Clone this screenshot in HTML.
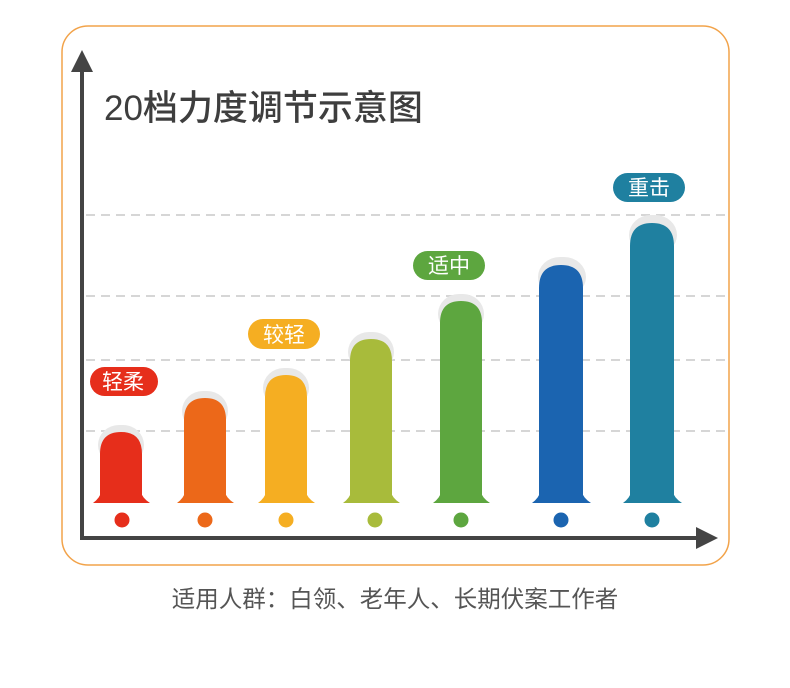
<!DOCTYPE html>
<html><head><meta charset="utf-8"><style>
body{margin:0;background:#fff;}
svg{display:block;font-family:"Liberation Sans","Noto Sans CJK SC",sans-serif;}
</style></head><body>
<svg width="790" height="688" viewBox="0 0 790 688">
<rect x="62" y="26" width="667" height="539" rx="26" fill="none" stroke="#f2a34a" stroke-width="1.5"/>
<g stroke="#d6d6d6" stroke-width="2" stroke-dasharray="9,6">
<line x1="86" y1="215" x2="728" y2="215"/>
<line x1="86" y1="296" x2="728" y2="296"/>
<line x1="86" y1="360" x2="728" y2="360"/>
<line x1="86" y1="431" x2="728" y2="431"/>
</g>
<text x="104" y="120" font-size="35" fill="#3e3e3e" font-weight="500">20档力度调节示意图</text>
<g fill="#e8e8e8">
<rect x="98" y="425" width="46" height="40" rx="21"/>
<rect x="182" y="391" width="46" height="40" rx="21"/>
<rect x="263" y="368" width="46" height="40" rx="21"/>
<rect x="348" y="332" width="46" height="40" rx="21"/>
<rect x="438" y="294" width="46" height="40" rx="21"/>
<rect x="538" y="257" width="48" height="40" rx="22"/>
<rect x="629" y="215" width="48" height="40" rx="22"/>
</g>
<g>
<path d="M100 503 L100 454 Q100 432 121 432 Q142 432 142 454 L142 503 Z M93 503 Q100 498 102 490 L140 490 Q142 498 150 503 Z" fill="#e62e1b"/>
<path d="M184 503 L184 420 Q184 398 205 398 Q226 398 226 420 L226 503 Z M177 503 Q184 498 186 490 L224 490 Q226 498 234 503 Z" fill="#ec6819"/>
<path d="M265 503 L265 397 Q265 375 286 375 Q307 375 307 397 L307 503 Z M258 503 Q265 498 267 490 L305 490 Q307 498 315 503 Z" fill="#f5ae22"/>
<path d="M350 503 L350 361 Q350 339 371 339 Q392 339 392 361 L392 503 Z M343 503 Q350 498 352 490 L390 490 Q392 498 400 503 Z" fill="#a8bb3b"/>
<path d="M440 503 L440 323 Q440 301 461 301 Q482 301 482 323 L482 503 Z M433 503 Q440 498 442 490 L480 490 Q482 498 490 503 Z" fill="#5da63f"/>
<path d="M539 503 L539 288 Q539 265 561 265 Q583 265 583 288 L583 503 Z M532 503 Q539 498 541 490 L581 490 Q583 498 591 503 Z" fill="#1b64b0"/>
<path d="M630 503 L630 246 Q630 223 652 223 Q674 223 674 246 L674 503 Z M623 503 Q630 498 632 490 L672 490 Q674 498 682 503 Z" fill="#1f80a0"/>
</g>
<circle cx="122" cy="520" r="7.5" fill="#e62e1b"/>
<circle cx="205" cy="520" r="7.5" fill="#ec6819"/>
<circle cx="286" cy="520" r="7.5" fill="#f5ae22"/>
<circle cx="375" cy="520" r="7.5" fill="#a8bb3b"/>
<circle cx="461" cy="520" r="7.5" fill="#5da63f"/>
<circle cx="561" cy="520" r="7.5" fill="#1b64b0"/>
<circle cx="652" cy="520" r="7.5" fill="#1f80a0"/>
<g stroke="#444" stroke-width="4" fill="none">
<line x1="82" y1="66" x2="82" y2="538"/>
<line x1="80" y1="538" x2="704" y2="538"/>
</g>
<polygon points="82,50 71,72 93,72" fill="#444"/>
<polygon points="718,538 696,527 696,549" fill="#444"/>
<g font-size="21" fill="#fff" text-anchor="middle">
<rect x="90" y="367" width="68" height="29" rx="14.5" fill="#e62e1b"/><text x="123" y="389">轻柔</text>
<rect x="248" y="319" width="72" height="30" rx="15" fill="#f5ae22"/><text x="284" y="342">较轻</text>
<rect x="413" y="251" width="72" height="29" rx="14.5" fill="#5da63f"/><text x="449" y="273">适中</text>
<rect x="613" y="173" width="72" height="29" rx="14.5" fill="#1f80a0"/><text x="649" y="195">重击</text>
</g>
<text x="395" y="607" font-size="23.5" fill="#555" text-anchor="middle">适用人群：白领、老年人、长期伏案工作者</text>
</svg>
</body></html>
